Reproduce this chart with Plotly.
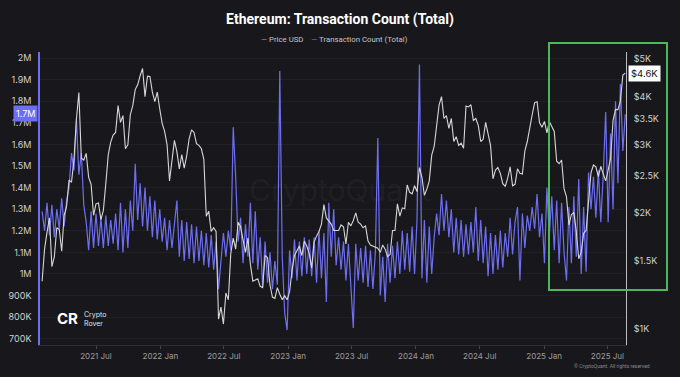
import math
import pandas as pd
import plotly.graph_objects as go

# ---------------- data (weekly samples) ----------------
start_date = "2021-01-28"

price_usd = [
    # 2021
    1330, 1610, 1780, 1940, 1450, 1540, 1830, 1810, 1590, 1970, 2080, 2430, 2400, 2750,
    3490, 4100, 2770, 2740, 2850, 2470, 2370, 1970, 2110, 2120, 1920, 2030, 2380, 2830,
    3050, 3180, 3230, 3790, 3430, 3570, 2930, 3000, 3590, 3790, 4170, 4290, 4530, 4730,
    4000, 4520, 4510, 4110, 3880, 4110, 3720,
    # 2022
    3410, 3250, 3000, 2420, 2690, 3080, 2880, 2600, 2830, 2610, 2810, 3110, 3280, 3230,
    3020, 2990, 2930, 2750, 1960, 2020, 1790, 1830, 1790, 1060, 1140, 1030, 1240, 1190,
    1570, 1720, 1610, 1890, 1840, 1700, 1580, 1720, 1470, 1330, 1340, 1350, 1290, 1280,
    1550, 1530, 1300, 1210, 1200, 1280, 1230, 1190, 1220, 1190,
    # 2023
    1250, 1420, 1550, 1600, 1640, 1550, 1690, 1640, 1570, 1440, 1680, 1740, 1790, 1870,
    2100, 1940, 1900, 1870, 1800, 1800, 1800, 1860, 1840, 1660, 1890, 1850, 1910, 2000,
    1890, 1870, 1830, 1850, 1690, 1650, 1640, 1630, 1620, 1580, 1650, 1610, 1540, 1560,
    1800, 1800, 2110, 1960, 2060, 2050, 2360, 2260, 2240, 2350,
    # 2024
    2270, 2620, 2470, 2220, 2300, 2420, 2820, 2970, 3340, 3800, 4000, 3510, 3570, 3310,
    3510, 3060, 3150, 2990, 3030, 2940, 3780, 3760, 3810, 3470, 3510, 3370, 3060, 3100,
    3430, 3180, 2990, 2450, 2580, 2620, 2530, 2380, 2340, 2460, 2630, 2350, 2370, 2600,
    2530, 2520, 2890, 3060, 3360, 3590, 3860, 3880, 3420, 3330,
    # 2025
    3450, 3220, 3450, 3330, 3250, 2720, 2680, 2740, 2310, 2200, 1860, 1980, 2000, 1790,
    1520, 1580, 1770, 1800, 2200, 2540, 2660, 2630, 2480, 2640, 2520, 2420, 2580, 2770,
    3470, 3700, 3700, 3900, 4550, 4600,
]

tx_count_k = [
    1290, 1200, 1330, 1180, 1320, 1170, 1300, 1210, 1350, 1220, 1340, 1400, 1560, 1480,
    1720, 1460, 1560, 1320, 1240, 1110, 1290, 1120, 1280, 1130, 1260, 1120, 1270, 1130,
    1250, 1140, 1280, 1110, 1330, 1100, 1300, 1120, 1340, 1200, 1510, 1250, 1420, 1220,
    1400, 1200, 1360, 1170, 1340, 1160, 1300, 1150, 1260, 1110, 1250, 1120, 1230, 1340,
    1080, 1250, 1060, 1240, 1070, 1230, 1050, 1220, 1060, 1200, 1040, 1190, 1030, 1180,
    1020, 1150, 930, 1080, 1190, 1080, 1200, 1110, 1680, 1450, 1150, 1260, 1050, 1230,
    1080, 1330, 1050, 1290, 1020, 1170, 940, 1150, 960, 1100, 930, 1060, 950, 1940,
    1080, 820, 740, 1110, 980, 1160, 970, 1150, 990, 1170, 1000, 1160, 990, 1170,
    960, 1200, 980, 1190, 870, 1330, 1080, 1300, 1040, 1170, 1020, 1150, 970, 1140,
    960, 750, 1140, 970, 1120, 960, 1130, 940, 1110, 930, 1100, 1630, 900, 1080,
    870, 1140, 960, 1130, 980, 1150, 1000, 1200, 1020, 1190, 1010, 1220, 1000, 1250,
    1970, 980, 1250, 960, 1220, 1000, 1170, 1280, 1180, 1370, 1200, 1340, 1170, 1300,
    1100, 1260, 1090, 1250, 1080, 1230, 1090, 1240, 1100, 1310, 1060, 1250, 1050, 1220,
    990, 1190, 1000, 1180, 1020, 1200, 1030, 1190, 1080, 1260, 1090, 1240, 1310, 970,
    1280, 1120, 1270, 1200, 1310, 1210, 1370, 1170, 1280, 1050, 1400, 1180, 1360, 1110,
    1340, 1050, 1330, 1100, 970, 1310, 1050, 1360, 1080, 1440, 1000, 1310, 1010, 1470,
    1300, 1450, 1260, 1480, 1240, 1460, 1750, 1240, 1650, 1300, 1800, 1420, 1880, 1570,
    1740,
]

left_tickvals = [700000, 800000, 900000, 1000000, 1100000, 1200000, 1300000,
                 1400000, 1500000, 1600000, 1700000, 1800000, 1900000, 2000000]
left_ticktext = ["700K", "800K", "900K", "1M", "1.1M", "1.2M", "1.3M",
                 "1.4M", "1.5M", "1.6M", "1.7M", "1.8M", "1.9M", "2M"]
right_tickvals = [1000, 1500, 2000, 2500, 3000, 3500, 4000, 4500, 5000]
right_ticktext = ["$1K", "$1.5K", "$2K", "$2.5K", "$3K", "$3.5K", "$4K", "$4.5K", "$5K"]
x_tickvals = ["2021-07-01", "2022-01-01", "2022-07-01", "2023-01-01", "2023-07-01",
              "2024-01-01", "2024-07-01", "2025-01-01", "2025-07-01"]
x_ticktext = ["2021 Jul", "2022 Jan", "2022 Jul", "2023 Jan", "2023 Jul",
              "2024 Jan", "2024 Jul", "2025 Jan", "2025 Jul"]

last_tx_label = "1.7M"
last_tx_value = 1745000
last_price_label = "$4.6K"
last_price_value = 4600

# ---------------- styling ----------------
BG = "#18181c"
TX_COLOR = "#6e6ef2"
PRICE_COLOR = "#d6d6d6"
FONT = "Inter, Roboto, Arial, sans-serif"
TITLE_FONT = "Roboto, Inter, Arial, sans-serif"

# plot area in pixels: left 40, right 626, top 52, bottom 345
def px_x(px):
    return (px - 40) / 586

def px_y(py):
    return (345 - py) / 293

dates_price = pd.date_range(start_date, periods=len(price_usd), freq="7D")
dates_tx = pd.date_range(start_date, periods=len(tx_count_k), freq="7D")
tx_count = [v * 1000 for v in tx_count_k]

fig = go.Figure()
fig.add_trace(go.Scatter(x=dates_tx, y=tx_count, mode="lines", name="Transaction Count (Total)",
                         line=dict(color=TX_COLOR, width=1.2), yaxis="y"))
fig.add_trace(go.Scatter(x=dates_price, y=price_usd, mode="lines", name="Price USD",
                         line=dict(color=PRICE_COLOR, width=1.1), yaxis="y2"))

fig.update_layout(
    width=680, height=377,
    paper_bgcolor=BG, plot_bgcolor=BG,
    margin=dict(l=40, r=54, t=52, b=32, autoexpand=False),
    showlegend=False,
    font=dict(family=FONT, color="#cfcfcf"),
    title=dict(text="<b>Ethereum: Transaction Count (Total)</b>", x=0.5, xanchor="center",
               xref="container", y=1 - 19 / 377, yanchor="middle", yref="container",
               automargin=False,
               font=dict(size=14, color="#ffffff", family=TITLE_FONT)),
    xaxis=dict(type="date", range=["2021-01-22", "2025-08-23"], automargin=False,
               tickvals=x_tickvals, ticktext=x_ticktext,
               tickfont=dict(size=8, color="#9c9c9c"),
               showgrid=False, zeroline=False,
               showline=True, linecolor="rgba(255,255,255,0.10)", linewidth=1,
               ticks="outside", ticklen=3, tickcolor="rgba(255,255,255,0.2)"),
    yaxis=dict(range=[671000, 2028000], tickvals=left_tickvals, ticktext=left_ticktext,
               automargin=False,
               tickfont=dict(size=9, color="#cfcfcf"),
               showgrid=True, gridcolor="rgba(255,255,255,0.035)", zeroline=False,
               showline=True, linecolor=TX_COLOR, linewidth=1.5,
               ticks="", ticklabelstandoff=5),
    yaxis2=dict(type="log", range=[math.log10(909), math.log10(5219)],
                overlaying="y", side="right", automargin=False,
                tickvals=right_tickvals, ticktext=right_ticktext,
                tickfont=dict(size=9, color="#cfcfcf"),
                showgrid=False, zeroline=False,
                showline=True, linecolor="#bdbdbd", linewidth=1,
                ticks="", ticklabelstandoff=5),
)

annotations = [
    # legend
    dict(text=f"<span style='color:#9a9a9a'>—</span> Price USD    "
              f"<span style='color:{TX_COLOR}'>—</span> Transaction Count (Total)",
         xref="paper", yref="paper", x=px_x(334), y=px_y(39),
         xanchor="center", yanchor="middle", showarrow=False,
         font=dict(size=7.8, color="#c4c4c4", family=TITLE_FONT)),
    # watermark
    dict(text="CryptoQuant", xref="paper", yref="paper", x=px_x(340), y=px_y(190),
         showarrow=False, font=dict(size=30, color="rgba(255,255,255,0.05)", family=FONT)),
    # last value labels
    dict(text=last_tx_label, xref="paper", yref="y", x=px_x(38), y=last_tx_value,
         xanchor="right", yanchor="middle", showarrow=False, bgcolor=TX_COLOR,
         borderpad=2, font=dict(size=9, color="#ffffff", family=FONT)),
    dict(text=last_price_label, xref="paper", yref="y2", x=px_x(628),
         y=math.log10(last_price_value),
         xanchor="left", yanchor="middle", showarrow=False, bgcolor="#ffffff",
         borderpad=2, font=dict(size=9.5, color="#111111", family=FONT)),
    # branding
    dict(text="<b>CR</b>", xref="paper", yref="paper", x=px_x(67), y=px_y(318),
         xanchor="center", yanchor="middle", showarrow=False,
         font=dict(size=15, color="#ffffff", family=FONT)),
    dict(text="Crypto<br>Rover", xref="paper", yref="paper", x=px_x(82), y=px_y(319),
         xanchor="left", yanchor="middle", align="left", showarrow=False,
         font=dict(size=7, color="#e0e0e0", family=FONT)),
    dict(text="© CryptoQuant. All rights reserved", xref="paper", yref="paper",
         x=px_x(652), y=px_y(366), xanchor="right", yanchor="middle", showarrow=False,
         font=dict(size=5, color="#8a8a8a", family=TITLE_FONT)),
]
fig.update_layout(annotations=annotations)

# green highlight box
fig.add_shape(type="rect", xref="paper", yref="paper",
              x0=px_x(549), x1=px_x(667), y0=px_y(290), y1=px_y(43),
              line=dict(color="#4cb85a", width=2), fillcolor="rgba(0,0,0,0)")

# remove the default page margin so the figure sits at the window's top-left corner
page_fix = ("document.body.style.margin='0';document.body.style.padding='0';"
            "document.body.style.background='" + BG + "';")

fig.write_html("out.html", post_script=page_fix, config={"displayModeBar": False})
